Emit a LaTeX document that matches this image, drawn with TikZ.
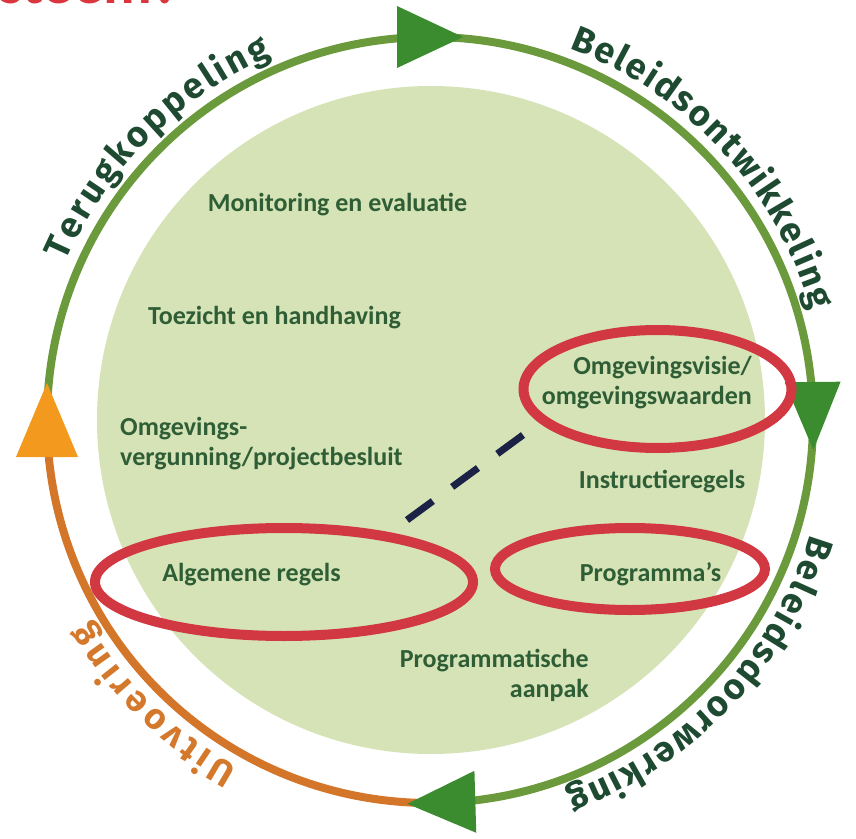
\documentclass[tikz,border=0pt]{standalone}
\usepackage{fontspec}
\setmainfont{Carlito}
\newfontfamily\outerfam{Fira Sans}
\usetikzlibrary{decorations.text,shapes.geometric}
\definecolor{diskgreen}{HTML}{D5E3B7}
\definecolor{ringgreen}{HTML}{6A9A3B}
\definecolor{ringorange}{HTML}{D4762A}
\definecolor{arrgreen}{HTML}{3A8C2E}
\definecolor{arrorange}{HTML}{F39A1E}
\definecolor{txtinner}{HTML}{2F5E36}
\definecolor{txtouter}{HTML}{1E4A31}
\definecolor{txtorange}{HTML}{D4782C}
\definecolor{ellred}{HTML}{D13841}
\definecolor{dashnavy}{HTML}{1B2246}
\definecolor{titlered}{HTML}{D9363E}
\newcommand\outerfont{\outerfam\fontsize{36}{36}\selectfont\bfseries}
\begin{document}
\begin{tikzpicture}[x=1pt,y=1pt,
  lbl/.style={text=txtinner, font=\fontsize{26}{30}\selectfont\bfseries, inner sep=0pt},
  redell/.style={ellipse, draw=ellred, line width=10pt, inner sep=0pt},
  ringline/.style={line width=8pt},
  dashline/.style={draw=dashnavy, line width=7pt, dash pattern=on 32pt off 24pt},
  curvetext/.style={decorate, decoration={text along path, text color=#1, text align=fit to path}}
]
\useasboundingbox (-430,-418) rectangle (426,420);
\begin{scope}
\clip (-430,-418) rectangle (426,420);
% title (cut off at top)
\node[anchor=base east, inner sep=0pt, text=titlered, font=\fontsize{60}{60}\selectfont\bfseries] (title) at (-250,416) {systeem?};
% disk
\fill[diskgreen] (1,0) circle[radius=334];
% ring
\draw[ringline, ringgreen] (-88:383) arc[start angle=-88, end angle=180, radius=383];
\draw[ringline, ringorange] (180:383) arc[start angle=180, end angle=272, radius=383];
% arrowheads
\fill[arrgreen, shift={(90:383)}, rotate=0] (33,0) -- (-33,31) -- (-33,-31) -- cycle;
\fill[arrgreen, shift={(0.6:383)}, rotate=-89.4] (34,0) -- (-34,28) -- (-34,-28) -- cycle;
\fill[arrgreen, shift={(-88.3:383)}, rotate=-178.3] (34,0) -- (-34,31) -- (-34,-31) -- cycle;
\fill[arrorange, shift={(180:383)}, rotate=90] (37,0) -- (-37,31) -- (-37,-31) -- cycle;
\end{scope}
% curved labels
\path[curvetext=txtouter, decoration={text={|\outerfont|Terugkoppeling}}]
  (156.5:397) arc[start angle=156.5, end angle=113.5, radius=397];
\path[curvetext=txtouter, decoration={text={|\outerfont|Beleidsontwikkeling}}]
  (69.5:397) arc[start angle=69.5, end angle=16, radius=397];
\path[curvetext=txtouter, decoration={text={|\outerfont|Beleidsdoorwerking}}]
  (-16.8:397) arc[start angle=-16.8, end angle=-70, radius=397];
\path[curvetext=txtorange, decoration={text={|\outerfont|Uitvoering}}]
  (-119:397) arc[start angle=-119, end angle=-149.5, radius=397];
% inner labels
\node[lbl] (mon) at (-92.5,215) {Monitoring en evaluatie};
\node[lbl] (toe) at (-155.5,102) {Toezicht en handhaving};
\node[lbl, align=left, anchor=west] (vg) at (-310,-24) {Omgevings-\\vergunning/projectbesluit};
\node[lbl, align=right, anchor=east] (ov) at (322,37) {Omgevingsvisie/\\omgevingswaarden};
\node[lbl] (ins) at (232,-62) {Instructieregels};
\node[lbl] (alg) at (-178.5,-155) {Algemene regels};
\node[lbl] (prg) at (220.5,-154) {Programma’s};
\node[lbl, align=right, anchor=east] (pa) at (159,-255) {Programmatische\\aanpak};
% red ellipses
\node[redell, minimum width=268pt, minimum height=118pt] (e1) at (227.5,31) {};
\node[redell, minimum width=378pt, minimum height=108pt] (e2) at (-146,-162) {};
\node[redell, minimum width=270pt, minimum height=82pt] (e3) at (200,-149) {};
% dashed link
\coordinate (d1) at (-23,-100);
\coordinate (d2) at (93,-15);
\draw[dashline] (d1) -- (d2);
\end{tikzpicture}
\end{document}
